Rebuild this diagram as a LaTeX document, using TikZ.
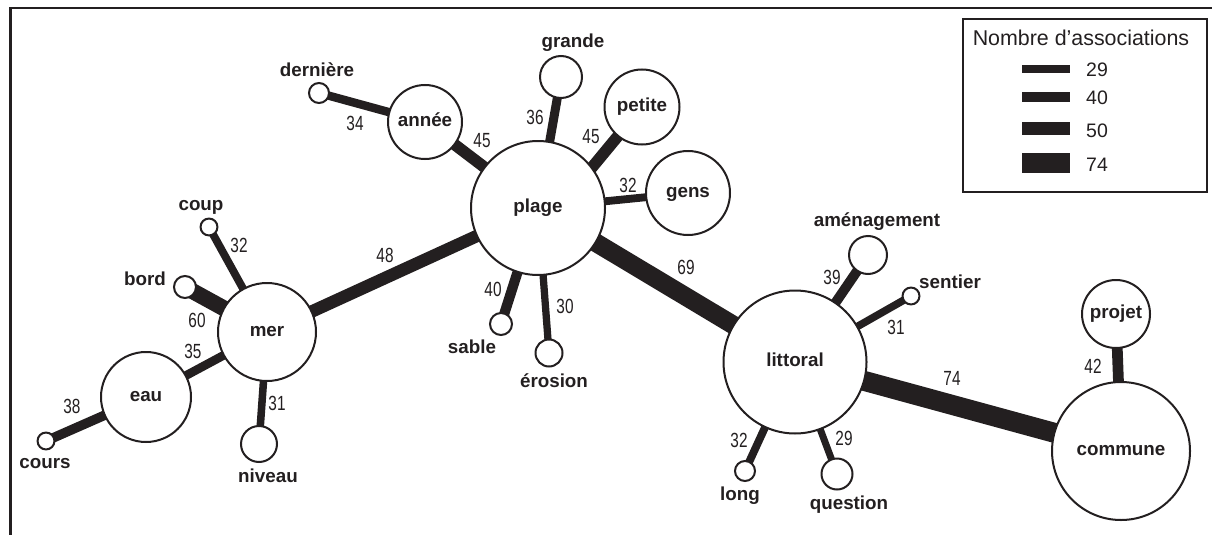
\documentclass[tikz,border=0pt]{standalone}
\usepackage{fontspec}
\setmainfont{Liberation Sans}
\newfontfamily\numfont[FakeStretch=0.75]{Liberation Sans}
\usetikzlibrary{backgrounds}
\definecolor{ink}{HTML}{231F20}
\begin{document}
\begin{tikzpicture}[x=1pt,y=-1pt,
  wc/.style={circle,draw=ink,line width=2pt,fill=white,minimum size=#1,inner sep=0pt,
    font=\fontsize{18.8}{20}\selectfont\bfseries,text=ink,text height=13pt,text depth=4pt},
  wl/.style={font=\fontsize{18.8}{20}\selectfont\bfseries,inner sep=0pt,anchor=base,text=ink},
  nl/.style={font=\fontsize{20.5}{22}\numfont,inner sep=0pt,text=ink,text height=14pt,text depth=0pt},
  ln/.style={font=\fontsize{19.5}{22}\selectfont,inner sep=0pt,text=ink,text height=14pt,text depth=0pt},
  ew/.style={draw=ink,line width={(0.289*#1-1.4)*1pt}},
  legbar/.style={draw=ink,line width=#1},
]
\useasboundingbox (0,0) rectangle (1212,535);
% frame
\draw[ink,line width=2.5pt] (1212,8) -- (10.3,8) -- (10.3,535);

% nodes
\node[wc=134] (plage) at (538,208) {plage};
\node[wc=74] (annee) at (425,122) {année};
\node[wc=20] (derniere) at (319,93) {};
\node[wc=42] (grande) at (561,77) {};
\node[wc=75] (petite) at (642,107) {petite};
\node[wc=84] (gens) at (688,193) {gens};
\node[wc=98] (mer) at (267,332) {mer};
\node[wc=90] (eau) at (146,397) {eau};
\node[wc=13] (cours) at (46,441) {};
\node[wc=36] (niveau) at (259,444) {};
\node[wc=22] (bord) at (185,287) {};
\node[wc=15] (coup) at (209,227) {};
\node[wc=22] (sable) at (501,324) {};
\node[wc=27] (erosion) at (549,353) {};
\node[wc=143] (littoral) at (795,362) {littoral};
\node[wc=20] (long) at (745,471) {};
\node[wc=31] (question) at (837,474) {};
\node[wc=13] (sentier) at (911,296) {};
\node[wc=38] (amenagement) at (868,255) {};
\node[wc=138] (commune) at (1121,451) {commune};
\node[wc=68] (projet) at (1116,314) {projet};

% edges
\begin{scope}[on background layer]
\draw[ew=34] (annee.center) -- (derniere.center);
\draw[ew=45] (plage.center) -- (annee.center);
\draw[ew=36] (plage.center) -- (grande.center);
\draw[ew=45,shorten <=-8pt] (plage.37) -- (petite.center);
\draw[ew=32] (plage.center) -- (gens.center);
\draw[ew=48] (plage.center) -- (mer.center);
\draw[ew=69] (plage.center) -- (littoral.center);
\draw[ew=40] (plage.center) -- (sable.center);
\draw[ew=30] (plage.center) -- (erosion.center);
\draw[ew=32] (mer.center) -- (coup.center);
\draw[ew=60] (mer.center) -- (bord.center);
\draw[ew=35] (mer.center) -- (eau.center);
\draw[ew=31] (mer.center) -- (niveau.center);
\draw[ew=38] (eau.center) -- (cours.center);
\draw[ew=39] (littoral.center) -- (amenagement.center);
\draw[ew=31] (littoral.center) -- (sentier.center);
\draw[ew=32] (littoral.center) -- (long.center);
\draw[ew=29] (littoral.center) -- (question.center);
\draw[ew=74] (littoral.center) -- (commune.center);
\draw[ew=42] (commune.center) -- (projet.center);
\end{scope}

% outside word labels
\node[wl] (tderniere) at (317,77) {dernière};
\node[wl] (tgrande) at (573,48) {grande};
\node[wl] (tcoup) at (201,210) {coup};
\node[wl] (tbord) at (145,285) {bord};
\node[wl] (tcours) at (45,468) {cours};
\node[wl] (tniveau) at (268,482) {niveau};
\node[wl] (tsable) at (472,353) {sable};
\node[wl] (terosion) at (554,387) {érosion};
\node[wl] (tlong) at (740,500) {long};
\node[wl] (tquestion) at (849,509) {question};
\node[wl] (tsentier) at (950,288) {sentier};
\node[wl] (tamenagement) at (877,226) {aménagement};

% edge value labels
\node[nl] (v34) at (355,123) {34};
\node[nl] (v45a) at (482,140) {45};
\node[nl] (v36) at (535,117) {36};
\node[nl] (v45p) at (591,136) {45};
\node[nl] (v32g) at (628,185) {32};
\node[nl] (v48) at (385,255) {48};
\node[nl] (v69) at (686,267) {69};
\node[nl] (v32c) at (239,245) {32};
\node[nl] (v60) at (197,320) {60};
\node[nl] (v35) at (193,351) {35};
\node[nl] (v38) at (72,406) {38};
\node[nl] (v31n) at (277,403) {31};
\node[nl] (v40) at (493,289) {40};
\node[nl] (v30) at (565,306) {30};
\node[nl] (v39) at (832,277) {39};
\node[nl] (v31s) at (896,327) {31};
\node[nl] (v32l) at (739,440) {32};
\node[nl] (v29q) at (844,438) {29};
\node[nl] (v74) at (952,378) {74};
\node[nl] (v42) at (1093,366) {42};

% legend
\draw[ink,line width=2pt] (963,19) rectangle (1207,192);
\node[font=\fontsize{21.4}{24}\selectfont,text=ink,inner sep=0pt] (legtitle) at (1081,38) {Nombre d’associations};
\draw[legbar=7pt] (1022,69) -- (1070,69);
\draw[legbar=10pt] (1022,97) -- (1070,97);
\draw[legbar=13pt] (1022,128) -- (1070,128);
\draw[legbar=20pt] (1022,163) -- (1070,163);
\node[ln] (l29) at (1097,69) {29};
\node[ln] (l40) at (1097,97) {40};
\node[ln] (l50) at (1097,130) {50};
\node[ln] (l74) at (1097,164) {74};
\end{tikzpicture}
\end{document}
